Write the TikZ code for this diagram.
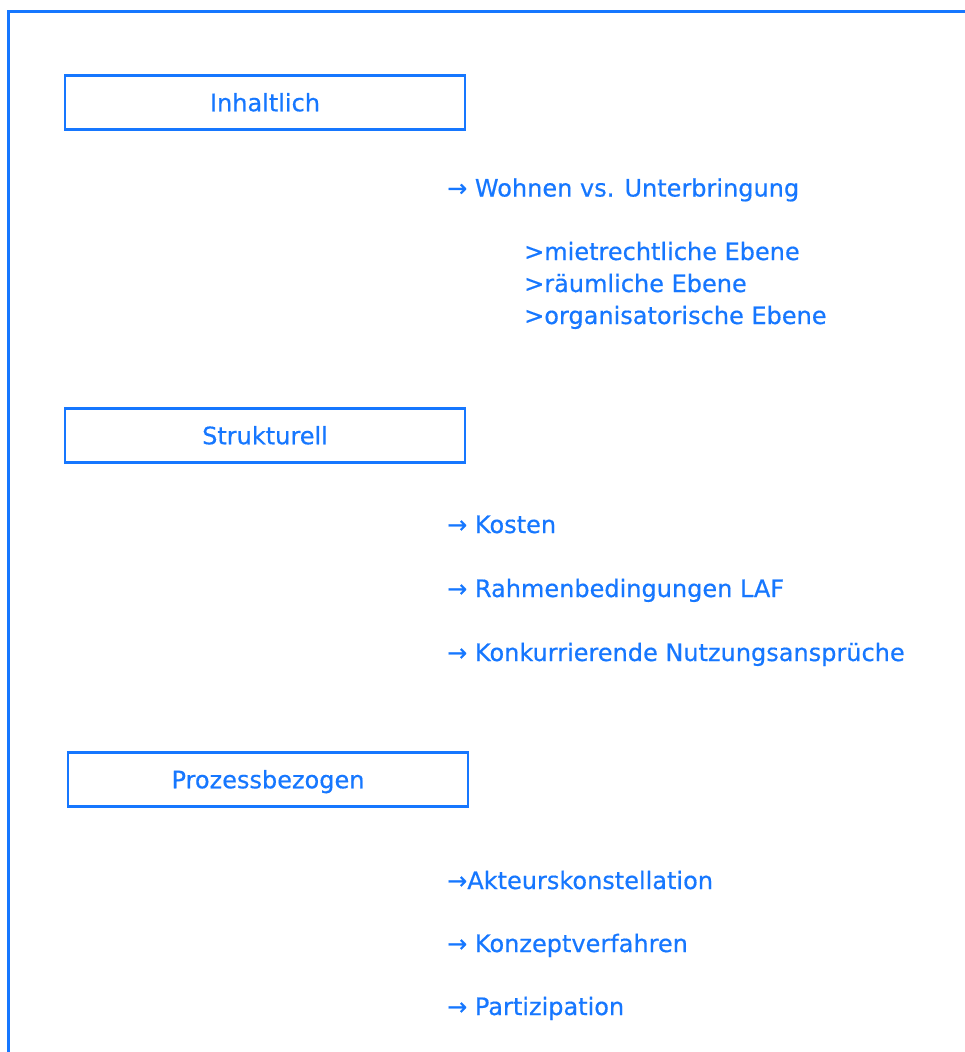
\documentclass[tikz,border=0pt]{standalone}
\usepackage{fontspec}
\setmainfont{DejaVu Sans}[BoldFont=DejaVu Sans, BoldFeatures={FakeBold=0.5}]
\definecolor{blau}{RGB}{22,119,255}

\tikzset{
  kategorie/.style={draw=blau, line width=2.8pt, text=blau, minimum width=400pt,
    minimum height=54pt, text height=17.5pt, text depth=0pt, inner sep=0pt,
    font=\fontsize{24pt}{28pt}\selectfont\bfseries},
  punkt/.style={anchor=base west, inner sep=0pt, text=blau,
    font=\fontsize{24pt}{28pt}\selectfont\bfseries}
}

\begin{document}
\begin{tikzpicture}[x=1pt,y=-1pt]
                    \useasboundingbox (0,0) rectangle (965,1052);

                    % Rahmen links und oben
                    \draw[blau, line width = 3pt] (8.3,1052) -- (8.3,11) -- (965,11);

                    % Inhaltlich
                    \node[kategorie] (inhaltlich) at (265,102.5) {Inhaltlich};
                    \node[punkt] (wohnen) at (447,196.5) {→ Wohnen vs. Unterbringung};
                    \node[punkt] (mietrecht) at (524,260) {>mietrechtliche Ebene};
                    \node[punkt] (raeumlich) at (524,292) {>räumliche Ebene};
                    \node[punkt] (orga) at (524,324) {>organisatorische Ebene};

                    % Strukturell
                    \node[kategorie] (strukturell) at (265,435.5) {Strukturell};
                    \node[punkt] (kosten) at (447,533) {→ Kosten};
                    \node[punkt] (rahmen) at (447,597) {→ Rahmenbedingungen LAF};
                    \node[punkt] (konkurrenz) at (447,661) {→ Konkurrierende Nutzungsansprüche};

                    % Prozessbezogen
                    \node[kategorie] (prozess) at (268,779.5) {Prozessbezogen};
                    \node[punkt] (akteure) at (447,889) {→Akteurskonstellation};
                    \node[punkt] (konzept) at (447,952) {→ Konzeptverfahren};
                    \node[punkt] (partizipation) at (447,1015) {→ Partizipation};

                \end{tikzpicture}
\end{document}
